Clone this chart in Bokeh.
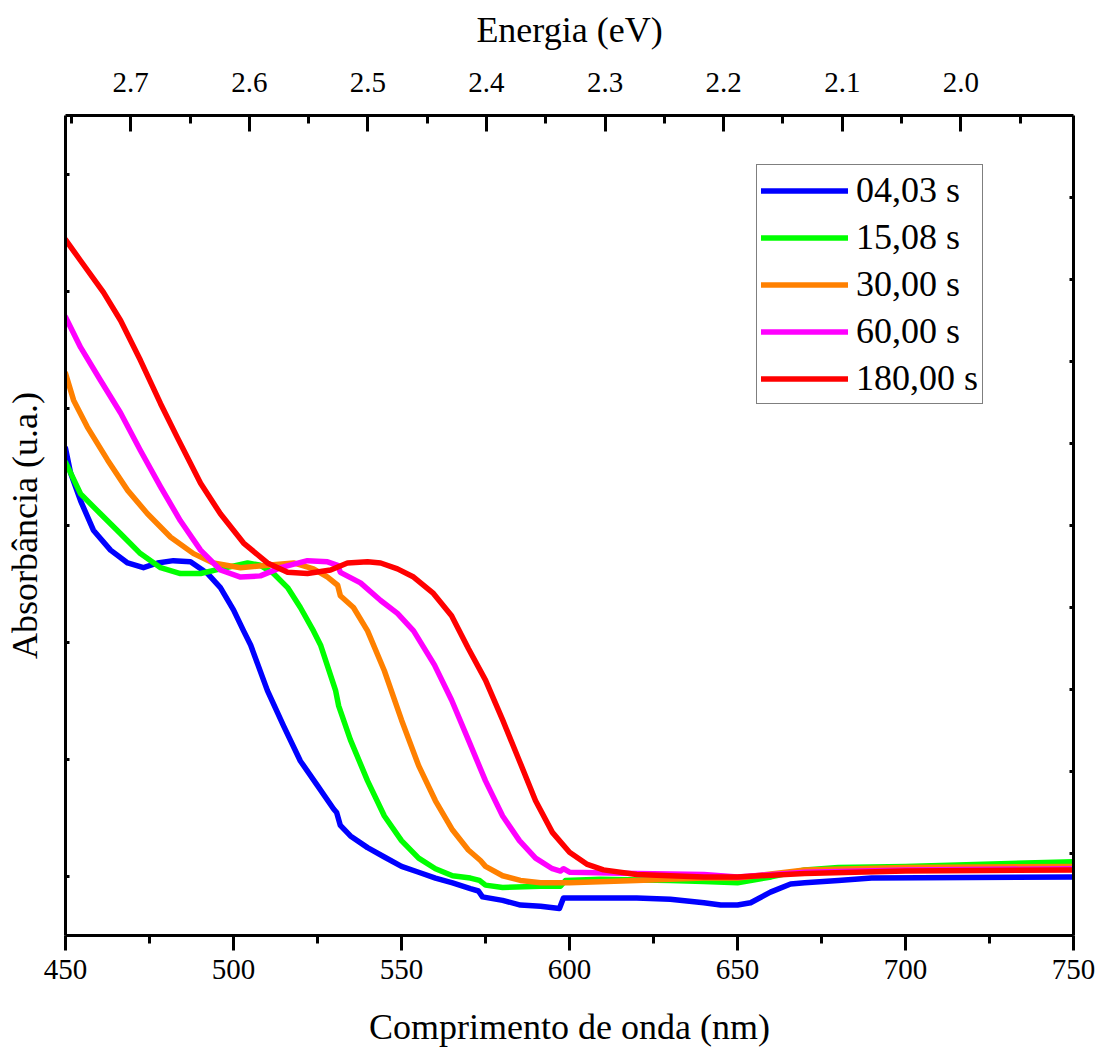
from bokeh.plotting import figure
from bokeh.models import (Range1d, LinearAxis, FixedTicker, PrintfTickFormatter,
                          CustomJSTickFormatter, Legend, LegendItem)
from bokeh.embed import file_html
from bokeh.resources import INLINE

# ---- data ----
labels = ["04,03 s", "15,08 s", "30,00 s", "60,00 s", "180,00 s"]
colors = ["#0000FF", "#00FF00", "#FF8000", "#FF00FF", "#FF0000"]

wl_blue = [450, 451.5, 454.5, 458.3, 463.4, 468.5, 473.2, 477.4, 482.1, 487.2, 492.3, 496.1,
           500, 503, 505.1, 510.1, 514.9, 519.9, 525, 529.8, 530.7, 531.8, 534.8, 539.9,
           544.9, 550, 555.1, 560.1, 565.2, 570.5, 572.9, 574.1, 580.1, 585.4, 591.4, 597,
           598.2, 600.3, 620, 630, 640, 645, 650, 653.9, 659.8, 665.8, 670, 680, 689.9, 750]
abs_blue = [0.466, 0.445, 0.421, 0.396, 0.379, 0.368, 0.364, 0.368, 0.370, 0.369, 0.359, 0.347,
            0.328, 0.310, 0.298, 0.259, 0.229, 0.199, 0.178, 0.158, 0.155, 0.144, 0.135, 0.125,
            0.117, 0.109, 0.104, 0.099, 0.095, 0.090, 0.088, 0.083, 0.080, 0.076, 0.075, 0.073,
            0.082, 0.082, 0.082, 0.081, 0.078, 0.076, 0.076, 0.078, 0.087, 0.094, 0.095, 0.097,
            0.099, 0.100]

wl_green = [450, 454.5, 460.4, 466.4, 472.3, 478.3, 484.2, 490.2, 496.1, 504.2, 508, 511.9,
            516.1, 519.9, 523.8, 525.9, 530.4, 531.3, 534.8, 539.9, 544.9, 550, 555.1, 560.1,
            565.2, 570.5, 573.2, 575, 580.1, 591.4, 597.3, 598.8, 609.2, 630, 640, 650, 660,
            670, 680, 700, 750]
abs_green = [0.454, 0.427, 0.410, 0.393, 0.376, 0.364, 0.359, 0.359, 0.363, 0.368, 0.366, 0.359,
             0.347, 0.330, 0.310, 0.298, 0.259, 0.246, 0.217, 0.182, 0.152, 0.131, 0.116, 0.107,
             0.101, 0.099, 0.097, 0.093, 0.091, 0.092, 0.092, 0.097, 0.098, 0.097, 0.096, 0.095,
             0.100, 0.106, 0.108, 0.109, 0.113]

wl_orange = [450, 452.4, 456.5, 462.5, 468.5, 474.4, 481.3, 488.1, 494, 502.1, 510.1, 517.9,
             523.8, 528, 531, 531.8, 535.7, 539.9, 544.9, 550, 555.1, 560.1, 565.2, 569.9,
             573.5, 575, 580.1, 585.4, 591.4, 600, 620, 640, 650, 670, 700, 750]
abs_orange = [0.530, 0.507, 0.484, 0.456, 0.430, 0.410, 0.390, 0.376, 0.368, 0.364, 0.366, 0.368,
              0.363, 0.356, 0.349, 0.340, 0.330, 0.310, 0.276, 0.234, 0.195, 0.165, 0.140, 0.123,
              0.114, 0.109, 0.101, 0.097, 0.095, 0.095, 0.097, 0.099, 0.099, 0.106, 0.108, 0.109]

wl_magenta = [450, 454.5, 460.4, 466.4, 472.3, 478.3, 484.2, 490.2, 496.1, 502.1, 508, 514,
              522, 528, 531, 531.8, 537.8, 543.8, 548.8, 553.6, 559.8, 564.9, 569.9, 575,
              580.1, 585.1, 589.9, 594.9, 597.3, 598.2, 600, 620, 640, 650, 670, 700, 750]
abs_magenta = [0.578, 0.552, 0.524, 0.496, 0.464, 0.433, 0.404, 0.379, 0.362, 0.356, 0.357, 0.364,
               0.370, 0.369, 0.366, 0.360, 0.351, 0.336, 0.325, 0.310, 0.281, 0.251, 0.217, 0.182,
               0.152, 0.131, 0.116, 0.107, 0.105, 0.107, 0.104, 0.103, 0.102, 0.100, 0.104, 0.106,
               0.107]

wl_red = [450, 454.5, 461.3, 466.4, 472.3, 478.3, 483.3, 490.2, 496.1, 503, 510.1, 516.1,
          522, 528.9, 533.9, 539.9, 543.8, 548.8, 553.6, 559.5, 564.9, 569.9, 575, 580.1,
          585.1, 589.9, 594.9, 600, 605.1, 610.1, 620, 640, 650, 670, 700, 750]
abs_red = [0.644, 0.626, 0.599, 0.575, 0.541, 0.504, 0.475, 0.436, 0.410, 0.385, 0.368, 0.360,
           0.359, 0.362, 0.368, 0.369, 0.368, 0.363, 0.356, 0.342, 0.323, 0.295, 0.268, 0.234,
           0.199, 0.165, 0.138, 0.121, 0.111, 0.106, 0.102, 0.100, 0.100, 0.103, 0.105, 0.106]

x_ticks = [450, 500, 550, 600, 650, 700, 750]
x_minor = [475, 525, 575, 625, 675, 725]
e_ticks = [2.7, 2.6, 2.5, 2.4, 2.3, 2.2, 2.1, 2.0]
e_minor = [2.75, 2.65, 2.55, 2.45, 2.35, 2.25, 2.15, 2.05, 1.95]
y_ticks = [0.1, 0.2, 0.3, 0.4, 0.5, 0.6, 0.7]
y2_ticks = [1, 2, 3, 4, 5, 6, 7, 8, 9]

FONT = "Liberation Serif"

p = figure(width=1098, height=1040, frame_width=1008, frame_height=820,
           x_range=Range1d(450, 750), y_range=Range1d(0.05, 0.75),
           output_backend="svg", toolbar_location=None,
           min_border_left=65, min_border_right=25, min_border_top=115, min_border_bottom=105,
           x_axis_location=None, y_axis_location=None)
p.xgrid.visible = False
p.ygrid.visible = False
p.outline_line_color = None
p.background_fill_color = "white"
p.border_fill_color = "white"

p.extra_x_ranges = {"energy": Range1d(2.755, 1.905)}
p.extra_y_ranges = {"right": Range1d(0, 10)}

def style(ax):
    ax.axis_line_width = 3
    ax.axis_line_color = "black"
    ax.major_tick_line_width = 3
    ax.minor_tick_line_width = 3
    ax.major_label_text_font = FONT
    ax.axis_label_text_font = FONT
    ax.axis_label_text_font_style = "normal"
    ax.major_label_text_color = "black"
    ax.axis_label_text_color = "black"

blank = CustomJSTickFormatter(code="return ''")

# bottom axis
xb = LinearAxis(axis_label="Comprimento de onda (nm)",
                ticker=FixedTicker(ticks=x_ticks, minor_ticks=x_minor))
style(xb)
xb.major_tick_in = 0
xb.major_tick_out = 15
xb.minor_tick_in = 0
xb.minor_tick_out = 8
xb.major_label_text_font_size = "29px"
xb.axis_label_text_font_size = "36px"
xb.major_label_standoff = 9
xb.axis_label_standoff = 25
p.add_layout(xb, "below")

# top axis
xt = LinearAxis(x_range_name="energy", axis_label="Energia (eV)",
                ticker=FixedTicker(ticks=e_ticks, minor_ticks=e_minor),
                formatter=PrintfTickFormatter(format="%.1f"))
style(xt)
xt.major_tick_in = 16
xt.major_tick_out = 0
xt.minor_tick_in = 8
xt.minor_tick_out = 0
xt.major_label_text_font_size = "29px"
xt.axis_label_text_font_size = "36px"
xt.major_label_standoff = 24
xt.axis_label_standoff = 20
p.add_layout(xt, "above")

# left axis
yl = LinearAxis(axis_label="Absorbância (u.a.)",
                ticker=FixedTicker(ticks=y_ticks, minor_ticks=[]), formatter=blank)
style(yl)
yl.major_tick_in = 4
yl.major_tick_out = 0
yl.major_label_standoff = 0
yl.axis_label_text_font_size = "36px"
yl.axis_label_standoff = 21
p.add_layout(yl, "left")

# right axis
yr = LinearAxis(y_range_name="right",
                ticker=FixedTicker(ticks=y2_ticks, minor_ticks=[]), formatter=blank)
style(yr)
yr.major_tick_in = 4
yr.major_tick_out = 0
yr.major_label_standoff = 0
p.add_layout(yr, "right")

series = [(wl_blue, abs_blue), (wl_green, abs_green), (wl_orange, abs_orange),
          (wl_magenta, abs_magenta), (wl_red, abs_red)]
renderers = []
for (xs, ys), c in zip(series, colors):
    r = p.line(xs, ys, line_color=c, line_width=5.5, line_join="round", line_cap="round")
    renderers.append(r)

legend = Legend(items=[LegendItem(label=l, renderers=[r]) for l, r in zip(labels, renderers)],
                location=(691, 531))
legend.label_text_font = FONT
legend.label_text_font_size = "36px"
legend.label_text_color = "black"
legend.glyph_width = 87
legend.glyph_height = 37
legend.label_height = 37
legend.spacing = 5
legend.padding = 4
legend.margin = 0
legend.label_standoff = 8
legend.border_line_color = "black"
legend.border_line_width = 1.5
legend.background_fill_alpha = 1
p.add_layout(legend, "center")

open("out.html", "w").write(file_html(p, INLINE))
